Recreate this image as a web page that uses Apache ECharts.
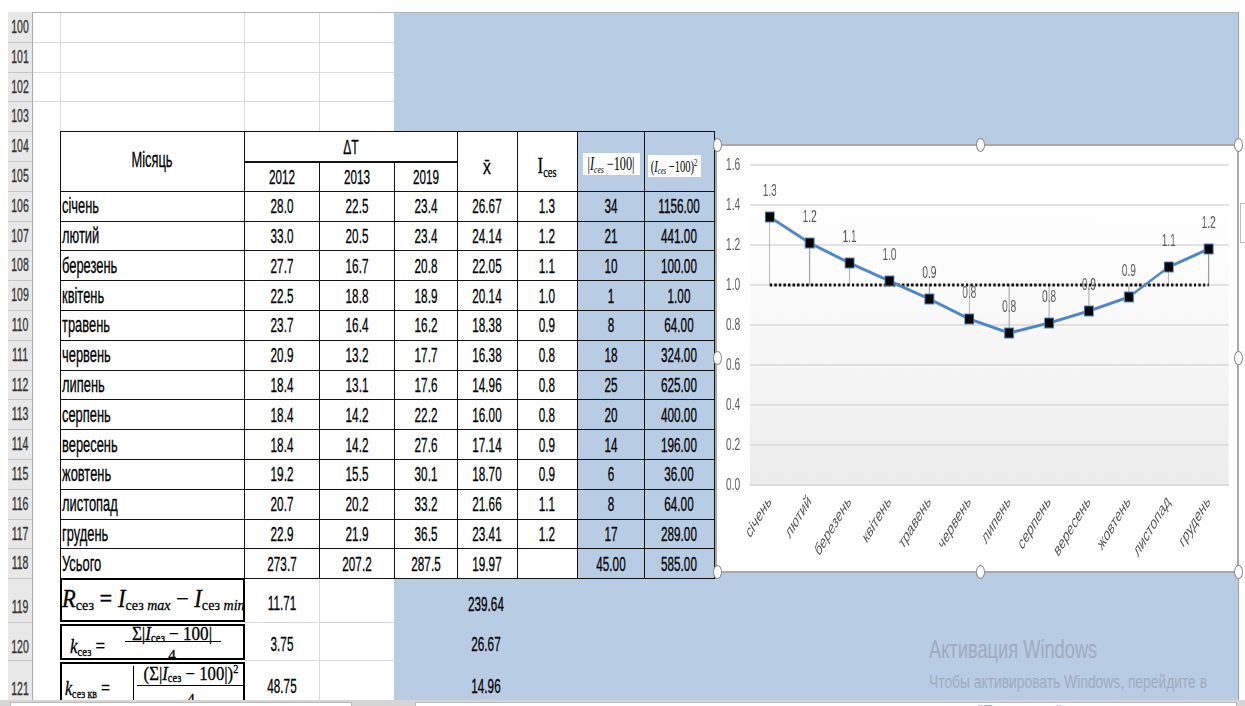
<!DOCTYPE html>
<html>
<head>
<meta charset="utf-8">
<script src="https://cdn.jsdelivr.net/npm/echarts@6/dist/echarts.min.js"></script>
<style>
  html, body { margin: 0; padding: 0; width: 1245px; height: 706px; overflow: hidden; background: #fff;
    font-family: "Liberation Sans", Arial, sans-serif; }
  .abs { position: absolute; box-sizing: border-box; }
  .t { position: absolute; white-space: nowrap; line-height: 1; -webkit-text-stroke: 0.3px currentColor; }
  .serif { font-family: "Liberation Serif", "DejaVu Serif", serif; }
  sub { font-size: 62%; vertical-align: -0.25em; line-height: 0; }
  sup { font-size: 62%; vertical-align: 0.55em; line-height: 0; }
</style>
</head>
<body>
<div id="sheet"></div>
<div id="chart" style="position:absolute;left:715px;top:145px;width:872px;height:427px;transform:scaleX(0.6);transform-origin:0 0;z-index:5;"></div>
<script>
// ---- data ----
const months = ['січень', 'лютий', 'березень', 'квітень', 'травень', 'червень',
                'липень', 'серпень', 'вересень', 'жовтень', 'листопад', 'грудень'];
const years = ['2012', '2013', '2019'];
const dt2012 = [28.0, 33.0, 27.7, 22.5, 23.7, 20.9, 18.4, 18.4, 18.4, 19.2, 20.7, 22.9];
const dt2013 = [22.5, 20.5, 16.7, 18.8, 16.4, 13.2, 13.1, 14.2, 14.2, 15.5, 20.2, 21.9];
const dt2019 = [23.4, 23.4, 20.8, 18.9, 16.2, 17.7, 17.6, 22.2, 27.6, 30.1, 33.2, 36.5];
const monthMean = [26.67, 24.14, 22.05, 20.14, 18.38, 16.38, 14.96, 16.00, 17.14, 18.70, 21.66, 23.41];
// seasonal index per month (plotted and shown in the table to one decimal)
const seasonalIndex = [1.34, 1.21, 1.11, 1.02, 0.93, 0.83, 0.76, 0.81, 0.87, 0.94, 1.09, 1.18];
// reference level of the index
const baseLevel = [1.0, 1.0, 1.0, 1.0, 1.0, 1.0, 1.0, 1.0, 1.0, 1.0, 1.0, 1.0];
const absDeviation = [34, 21, 10, 1, 8, 18, 25, 20, 14, 6, 8, 17];
const sqDeviation = [1156, 441, 100, 1, 64, 324, 625, 400, 196, 36, 64, 289];
const totalLabel = 'Усього';
const totals = [273.7, 207.2, 287.5, 19.97, null, 45.00, 585.00];
const totalDigits = [1, 1, 1, 2, null, 2, 2];
const summaryB = [11.71, 3.75, 48.75];
const summaryE = [239.64, 26.67, 14.96];
const yTicks = [0, 0.2, 0.4, 0.6, 0.8, 1.0, 1.2, 1.4, 1.6];

// ---- sheet helpers ----
const SX = 0.6;
const sheet = document.getElementById('sheet');
function box(x, y, w, h, style, parent) {
  const d = document.createElement('div');
  d.className = 'abs';
  Object.assign(d.style, { left: x + 'px', top: y + 'px', width: w + 'px', height: h + 'px' }, style || {});
  (parent || sheet).appendChild(d);
  return d;
}
function text(str, x, y, o) {
  o = o || {};
  const d = document.createElement('div');
  d.className = 't' + (o.cls ? ' ' + o.cls : '');
  if (o.html) d.innerHTML = str; else d.textContent = str;
  const sx = o.sx || SX;
  d.style.fontSize = (o.size || 19.5) + 'px';
  d.style.color = o.color || '#000';
  if (o.noStroke) d.style.webkitTextStroke = '0';
  d.style.left = x + 'px';
  d.style.top = y + 'px';
  if (o.align === 'left') {
    d.style.transformOrigin = 'left center';
    d.style.transform = 'translateY(-50%) scaleX(' + sx + ')';
  } else {
    d.style.transformOrigin = 'center center';
    d.style.transform = 'translate(-50%,-50%) scaleX(' + sx + ')';
  }
  if (o.z) d.style.zIndex = o.z;
  (o.parent || sheet).appendChild(d);
  return d;
}
const rowH = 29.8;
function rowTop(n) {
  if (n <= 119) return 12 + (n - 100) * rowH;
  if (n === 120) return 622;
  if (n === 121) return 660;
  return 706;
}
function rowLabelY(n) {
  if (n <= 118) return rowTop(n) + rowH / 2 + 1;
  return { 119: 608, 120: 648, 121: 690 }[n];
}

// blue selection area
box(394, 12, 844, 688, { background: '#b8cce4' });
// plain cells, rows 100-103
box(32, 12, 362, 119, { background: '#fff' });
for (let n = 101; n <= 104; n++) box(32, rowTop(n), 362, 1, { background: '#d9d9d9' });
[60, 244, 319].forEach(x => box(x, 12, 1, 119, { background: '#d9d9d9' }));
box(8, 12, 1230, 1, { background: '#b4b4b4' });
// column A next to table
box(32, 131, 28, 575, { background: '#fff' });
// plain cells, rows 119-121
box(244, 578, 150, 128, { background: '#fff' });
box(244, 622, 150, 1, { background: '#d9d9d9' });
box(244, 660, 150, 1, { background: '#d9d9d9' });
box(319, 578, 1, 128, { background: '#d9d9d9' });

// row header column
box(8, 12, 25, 694, { background: '#e8e8e8', borderRight: '1px solid #a8a8a8' });
for (let n = 100; n <= 121; n++) {
  box(8, rowTop(n + 1), 24, 1, { background: '#c4c4c4' });
  text(String(n), 20, rowLabelY(n), { size: 17.5, color: '#333' });
}

// ---- table ----
const colX = [60, 244, 319, 394, 457, 517, 577, 644, 714];
const BLUE = '#b8cce4';
function cell(x0, y0, x1, y1, bg) {
  return box(x0, y0, x1 - x0 + 1, y1 - y0 + 1, { border: '1px solid #111', background: bg || '#fff' });
}
const hTop = rowTop(104), hMid = 161.5, hBot = rowTop(106);
cell(60, hTop, 244, hBot);
text('Місяць', 152, 161, { size: 21.5 });
cell(244, hTop, 457, hMid);
text('ΔT', 351, 147, { size: 20 });
years.forEach((yr, i) => {
  cell(colX[1 + i], hMid, colX[2 + i], hBot);
  text(yr, (colX[1 + i] + colX[2 + i]) / 2, 178, { size: 19.5 });
});
cell(457, hTop, 517, hBot);
text('x\u0304', 487, 166, { size: 21, sx: 0.75 });
cell(517, hTop, 577, hBot);
text('I<sub>ces</sub>', 547, 165, { html: true, cls: 'serif', size: 24, sx: 0.7 });
cell(577, hTop, 644, hBot, BLUE);
cell(644, hTop, 714, hBot, BLUE);
box(583, 153, 57, 22, { background: '#fff' });
text('|<i>I</i><sub><i>ces</i></sub> \u2212100|', 611, 164, { html: true, cls: 'serif', size: 18, sx: 0.68, noStroke: true });
box(648, 155, 53, 22, { background: '#fff' });
text('(<i>I</i><sub><i>ces</i></sub> \u2212100)<sup>2</sup>', 674, 166, { html: true, cls: 'serif', size: 17, sx: 0.62, noStroke: true });

function dataRow(n, cols) {
  const y0 = rowTop(n), y1 = rowTop(n + 1), yc = (y0 + y1) / 2 + 1.5;
  for (let c = 0; c < 8; c++) {
    cell(colX[c], y0, colX[c + 1], y1, c >= 6 ? BLUE : '#fff');
    const v = cols[c];
    if (v === '' || v == null) continue;
    if (c === 0) text(v, 62, yc, { align: 'left', size: 21.5 });
    else text(v, (colX[c] + colX[c + 1]) / 2, yc, { size: 19.5 });
  }
}
months.forEach((m, i) => {
  dataRow(106 + i, [m, dt2012[i].toFixed(1), dt2013[i].toFixed(1), dt2019[i].toFixed(1),
    monthMean[i].toFixed(2), seasonalIndex[i].toFixed(1), String(absDeviation[i]), sqDeviation[i].toFixed(2)]);
});
dataRow(118, [totalLabel].concat(totals.map((v, i) => v == null ? '' : v.toFixed(totalDigits[i]))));

// summary rows 119-121 with formula cells
const fBoxes = [[578, 622], [624, 660], [662, 710]];
const fEls = fBoxes.map(([a, b]) => box(60, a, 185, b - a, { border: '2px solid #000', background: '#fff', overflow: 'hidden', zIndex: 2 }));
text('<i>R</i><sub>сез</sub> = <i>I</i><sub>сез <i>max</i></sub> \u2212 <i>I</i><sub>сез <i>min</i></sub>', 0, 18,
  { html: true, cls: 'serif', size: 25, sx: 0.9, align: 'left', parent: fEls[0] });
text('<i>k</i><sub>сез</sub> =', 8, 20, { html: true, cls: 'serif', size: 20, sx: 0.85, align: 'left', parent: fEls[1] });
text('\u03a3|<i>I</i><sub>сез</sub> \u2212 100|', 110, 7, { html: true, cls: 'serif', size: 19, sx: 0.9, parent: fEls[1] });
box(63, 15, 96, 1.4, { background: '#000' }, fEls[1]);
text('4', 110, 29, { cls: 'serif', size: 17, sx: 0.9, parent: fEls[1] });
text('<i>k</i><sub>сез кв</sub> =', 3, 24, { html: true, cls: 'serif', size: 20, sx: 0.8, align: 'left', parent: fEls[2] });
box(71, 2, 1.2, 40, { background: '#000' }, fEls[2]);
box(75, 21, 108, 1.4, { background: '#000' }, fEls[2]);
text('(\u03a3|<i>I</i><sub>сез</sub> \u2212 100|)<sup>2</sup>', 129, 9, { html: true, cls: 'serif', size: 19, sx: 0.88, parent: fEls[2] });
text('4', 129, 35, { cls: 'serif', size: 17, sx: 0.9, parent: fEls[2] });
summaryB.forEach((v, i) => text(v.toFixed(2), 281.5, [604, 645, 687][i], { size: 19.5 }));
summaryE.forEach((v, i) => text(v.toFixed(2), 486, [605, 645, 687][i], { size: 19.5 }));

// right edge, bottom bar
box(1238, 12, 7, 694, { background: '#fff', borderLeft: '1px solid #a0a0a0' });
box(1240, 203, 8, 40, { background: '#fff', border: '1px solid #bdbdbd', zIndex: 6 });
box(0, 700, 1245, 6, { background: '#d6d6d6', zIndex: 3 });
box(10, 702, 342, 6, { background: '#fff', border: '1px solid #bbb', zIndex: 3 });
box(415, 702, 822, 6, { background: '#fff', border: '1px solid #bbb', zIndex: 3 });

// watermark
text('Активация Windows', 929, 649, { align: 'left', size: 25, sx: 0.73, color: '#a0abbb', z: 4, noStroke: true });
text('Чтобы активировать Windows, перейдите в', 929, 683, { align: 'left', size: 17.5, sx: 0.79, color: '#a0abbb', z: 4, noStroke: true });
text('"Параметры".', 978, 713, { align: 'left', size: 17.5, sx: 0.79, color: '#a0abbb', z: 4, noStroke: true });

// chart frame and handles
box(715, 144, 524, 429, { background: '#fff', border: '2px solid #a9a9a9', zIndex: 1 });
[[717, 145], [980, 145], [1238, 145], [717, 358], [1238, 358], [717, 572], [980, 572], [1238, 572]].forEach(([x, y]) =>
  box(x - 4.5, y - 7, 9, 14, { background: '#fff', border: '1.5px solid #8a8a8a', borderRadius: '50%', zIndex: 7 }));

// ---- chart ----
const chart = echarts.init(document.getElementById('chart'), null, { renderer: 'canvas' });
const LINE = '#4f86c6';
chart.setOption({
  animation: false,
  backgroundColor: 'transparent',
  textStyle: { fontFamily: '"Liberation Sans", Arial, sans-serif' },
  grid: {
    left: 58, right: 16, top: 20, bottom: 87, show: true, borderWidth: 0,
    backgroundColor: { type: 'linear', x: 0, y: 0, x2: 0, y2: 1,
      colorStops: [{ offset: 0, color: '#ffffff' }, { offset: 0.3, color: '#fdfdfd' }, { offset: 1, color: '#ececec' }] }
  },
  xAxis: {
    type: 'category', data: months, boundaryGap: true,
    axisLine: { show: true, lineStyle: { color: '#d9d9d9', width: 1.5 } },
    axisTick: { show: false },
    axisLabel: { interval: 0, rotate: 45, fontSize: 18, color: '#595959', margin: 14 }
  },
  yAxis: {
    type: 'value', min: yTicks[0], max: yTicks[yTicks.length - 1], interval: 0.2,
    axisLine: { show: false }, axisTick: { show: false },
    splitLine: { lineStyle: { color: '#d9d9d9', width: 1.5 } },
    axisLabel: { fontSize: 17, color: '#595959', margin: 16, formatter: v => v.toFixed(1) }
  },
  series: [
    {
      // drop lines from each month's index to the reference level
      type: 'custom', z: 1, silent: true,
      data: seasonalIndex.map((v, i) => [i, v, baseLevel[i]]),
      renderItem: (params, api) => {
        const a = api.coord([api.value(0), api.value(1)]);
        const b = api.coord([api.value(0), api.value(2)]);
        return { type: 'line', shape: { x1: a[0], y1: a[1], x2: b[0], y2: b[1] },
          style: { stroke: '#a0a0a0', lineWidth: 1.6 } };
      }
    },
    {
      type: 'line', data: baseLevel, z: 2, symbol: 'none', silent: true,
      lineStyle: { color: '#111', width: 3, type: [4, 3.6] }
    },
    {
      type: 'line', data: seasonalIndex, z: 3,
      lineStyle: { color: LINE, width: 3 },
      symbol: 'rect', symbolSize: [15, 10],
      itemStyle: { color: '#050505', borderColor: LINE, borderWidth: 1.3 },
      label: { show: true, position: 'top', distance: 12, fontSize: 17, color: '#595959',
        formatter: p => p.value.toFixed(1) }
    }
  ]
});
</script>
</body>
</html>
